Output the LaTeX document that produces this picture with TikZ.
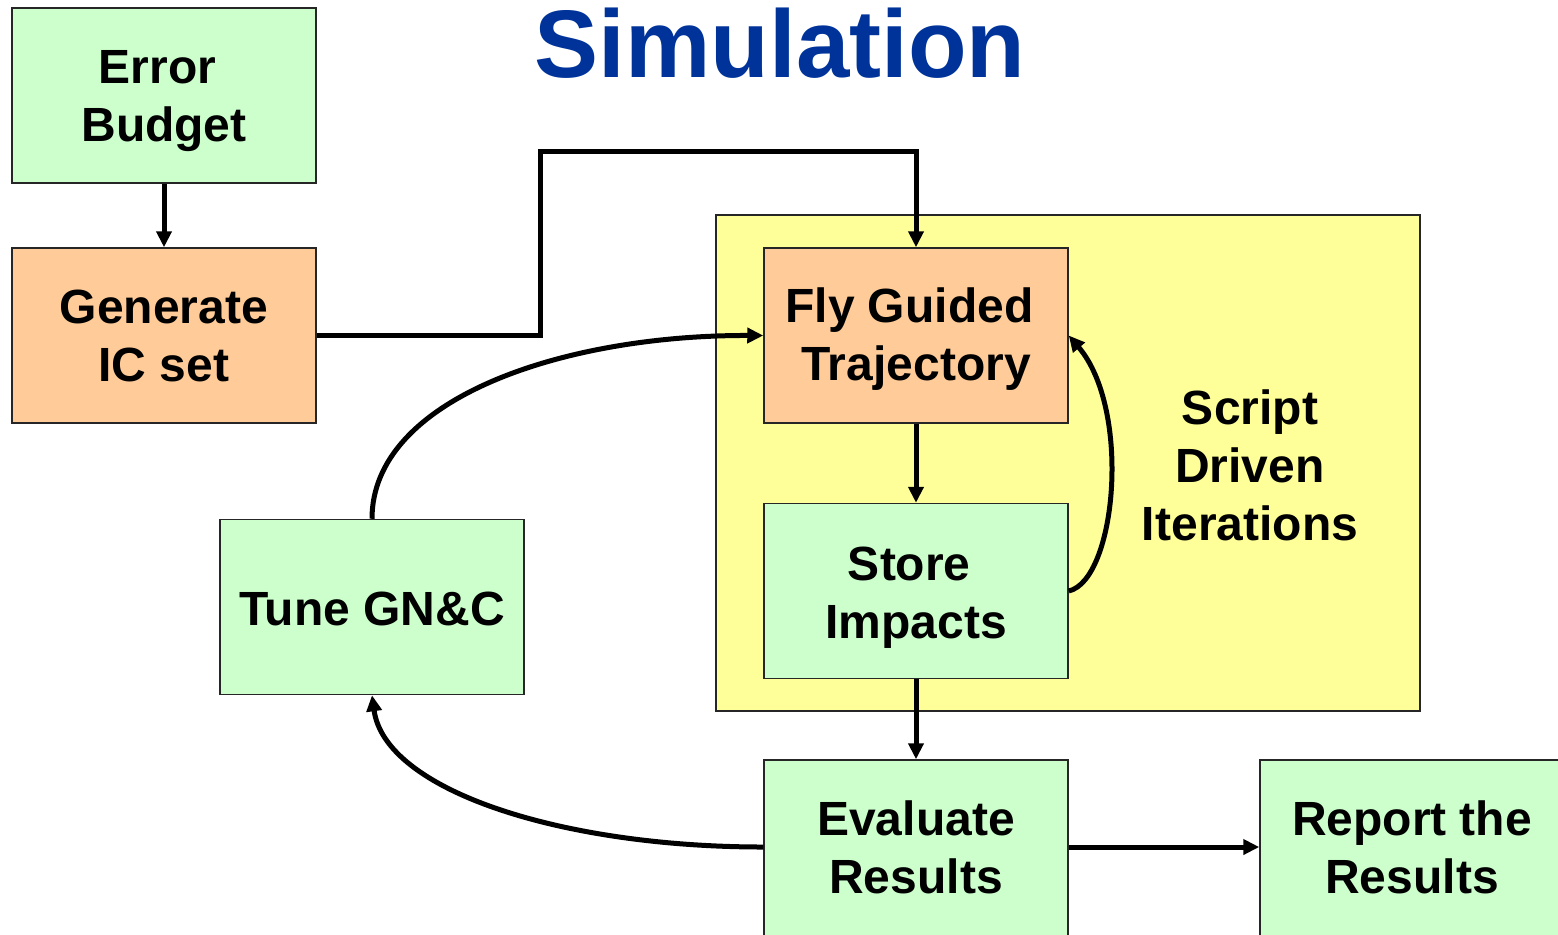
\documentclass[tikz,border=0pt]{standalone}
\usepackage{fontspec}
\setmainfont{Liberation Sans}
\usetikzlibrary{arrows.meta}
\definecolor{boxgreen}{HTML}{CCFFCC}
\definecolor{boxorange}{HTML}{FFCC99}
\definecolor{boxyellow}{HTML}{FFFF99}
\definecolor{titleblue}{HTML}{003399}
\tikzset{
  txt/.style={align=center, font=\fontsize{24}{29}\selectfont\bfseries, inner sep=0pt},
  box/.style={draw=black!85, line width=0.75pt, minimum width=152pt, minimum height=87.5pt,
    inner sep=0pt},
  gbox/.style={box, fill=boxgreen},
  obox/.style={box, fill=boxorange},
  conn/.style={line width=2.5pt, draw=black, -{Triangle[length=8pt,width=7.5pt]}},
}
\newcommand{\tsp}{\hspace*{0.278em}}
\begin{document}
\begin{tikzpicture}[x=0.5pt,y=-0.5pt]
\useasboundingbox (0,0) rectangle (1558,934);
% yellow region
\draw[fill=boxyellow, draw=black!85, line width=0.75pt] (716,215) rectangle (1420,711);
\node[txt] (script) at (1250,465) {Script\\Driven\\Iterations};
% title
\node[anchor=base, text=titleblue, font=\fontsize{48}{56}\selectfont\bfseries] (title) at (780,77) {Simulation};
% boxes
\node[gbox, label={[txt,yshift=-3pt]center:Error\tsp\\Budget}] (err) at (164,95.5) {};
\node[obox, label={[txt,yshift=0pt]center:Generate\\IC set}] (gen) at (164,335.5) {};
\node[obox, label={[txt,yshift=-2pt]center:Fly Guided\tsp\\Trajectory}] (fly) at (916,335.5) {};
\node[gbox, label={[txt,yshift=-3.5pt]center:Store\tsp\\Impacts}] (store) at (916,591) {};
\node[gbox, label={[txt,yshift=-1pt]center:Tune GN\&C}] (tune) at (372,607) {};
\node[gbox, minimum height=90pt, label={[txt,yshift=1.5pt]center:Evaluate\\Results}] (eval) at (916,850) {};
\node[gbox, minimum height=90pt, label={[txt,yshift=1.5pt]center:Report the\\Results}] (rep) at (1412,850) {};
% connectors
\draw[conn] (err.south) -- (gen.north);
\draw[conn] (gen.east) -| (540,151) -| (fly.north);
\draw[conn] (fly.south) -- (store.north);
\draw[conn] (store.south) -- (eval.north);
\draw[conn] (store.east) .. controls (1116,580) and (1132,410) .. (fly.east);
\draw[conn] (tune.north) .. controls (372,400) and (560,335) .. (fly.west);
\draw[conn] ([yshift=1.5pt]eval.west) .. controls (560,847) and (385,790) .. (tune.south);
\draw[conn] ([yshift=1.5pt]eval.east) -- ([yshift=1.5pt]rep.west);
\end{tikzpicture}
\end{document}
